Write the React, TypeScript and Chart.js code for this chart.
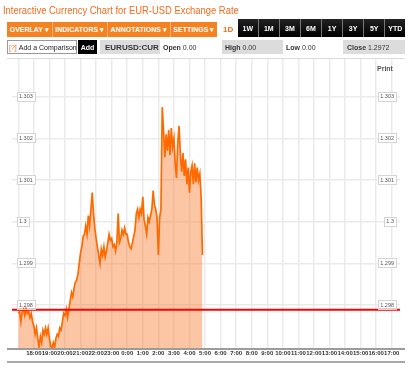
import React, { useEffect, useRef } from 'react';
import { Chart, registerables } from 'chart.js';

Chart.register(...registerables);

const TITLE = 'Interactive Currency Chart for EUR-USD Exchange Rate';
const MENU = ['OVERLAY', 'INDICATORS', 'ANNOTATIONS', 'SETTINGS'];
const RANGES = ['1W', '1M', '3M', '6M', '1Y', '3Y', '5Y', 'YTD'];
const SYMBOL = 'EURUSD:CUR';
const OPEN = '0.00';
const HIGH = '0.00';
const LOW = '0.00';
const CLOSE = '1.2972';

// hours since 17:00 -> axis label
const HOUR_LABELS = [
  '', '18:00', '19:00', '20:00', '21:00', '22:00', '23:00', '0:00', '1:00', '2:00',
  '3:00', '4:00', '5:00', '6:00', '7:00', '8:00', '9:00', '10:00', '11:00', '12:00',
  '13:00', '14:00', '15:00', '16:00', '17:00',
];

// EUR-USD price, one sample every 5 minutes starting at 17:00
const STEP_MINUTES = 5;
const PRICES = [
  1.2978, 1.29785, 1.2976, 1.29785, 1.2979, 1.29775, 1.2979, 1.2978, 1.29785, 1.2977, 1.2978, 1.2976,
  1.2975, 1.2973, 1.29745, 1.2972, 1.297, 1.29725, 1.2971, 1.2974, 1.2973, 1.29745, 1.2973, 1.29745,
  1.2972, 1.297, 1.29698, 1.2971, 1.29698, 1.2972, 1.2973, 1.29725, 1.29745, 1.2974, 1.2976, 1.2978,
  1.29775, 1.2979, 1.2977, 1.2979, 1.2981, 1.2983, 1.2982, 1.2984, 1.29855, 1.2986, 1.29875, 1.299,
  1.29925, 1.2994, 1.29965, 1.2997, 1.2999, 1.2997, 1.30015, 1.2999, 1.3003, 1.3007, 1.3002, 1.29985,
  1.2996, 1.2994, 1.2992, 1.299, 1.29935, 1.2992, 1.2994, 1.29915, 1.2993, 1.2995, 1.2997, 1.29955,
  1.2996, 1.2994, 1.29945, 1.2993, 1.2995, 1.3002, 1.2995, 1.2996, 1.2998, 1.2997, 1.29985, 1.2997,
  1.2997, 1.2995, 1.2994, 1.29935, 1.2995, 1.29965, 1.2998, 1.3002, 1.3003, 1.3001, 1.3003, 1.3002,
  1.3006, 1.30005, 1.2999, 1.2997, 1.3001, 1.3, 1.30015, 1.3003, 1.30075, 1.3004, 1.3003, 1.3001,
  1.2992, 1.3001, 1.3003, 1.30275, 1.3022, 1.30155, 1.3021, 1.3017, 1.3022, 1.3016, 1.30225, 1.3018,
  1.302, 1.3014, 1.30105, 1.3019, 1.3023, 1.3016, 1.3012, 1.30165, 1.3011, 1.3015, 1.3009, 1.3013,
  1.3007, 1.3012, 1.30135, 1.3009, 1.3014, 1.30095, 1.3013, 1.301, 1.30115, 1.3006, 1.2992,
];

const REF_PRICE = 1.29789;
const Y_MIN = 1.29697;
const Y_MAX = 1.30393;
const X_MIN = -0.405;
const X_MAX = 24.53;

const FONT = '"Liberation Sans", Arial, Helvetica, sans-serif';
const ORANGE_TEXT = '#f26c1d';
const Y_FONT = 5.5;

const labelBoxes = {
  id: 'labelBoxes',
  afterDraw(chart: any) {
    const ctx = chart.ctx;
    ctx.save();
    ctx.font = `${Y_FONT}px ${FONT}`;
    ctx.strokeStyle = '#d4d4d4';
    ctx.lineWidth = 1;
    for (const id of ['y', 'y2']) {
      const s = chart.scales[id];
      const pad = s.options.ticks.padding;
      for (const t of s.ticks) {
        const label = String(t.label);
        const w = ctx.measureText(label).width;
        const y = Math.round(s.getPixelForValue(t.value));
        const x0 = id === 'y' ? s.right + pad - 2 : s.left + pad - w - 2;
        ctx.strokeRect(Math.round(x0) + 0.5, y - 4.5, Math.round(w + 4), 9);
      }
    }
    ctx.restore();
  },
};

function ChartCanvas() {
  const ref = useRef<HTMLCanvasElement | null>(null);
  useEffect(() => {
    if (!ref.current) return;
    const priceData = PRICES.map((v, i) => ({ x: (i * STEP_MINUTES) / 60, y: v }));
    const yTicks = (padding: number) => ({
      mirror: true,
      padding,
      stepSize: 0.001,
      includeBounds: false,
      showLabelBackdrop: true,
      backdropColor: '#ffffff',
      backdropPadding: { x: 2, y: 1 },
      color: '#555',
      font: { size: Y_FONT, family: FONT },
      callback: (v: any) => String(Number(Number(v).toFixed(3))),
    });
    const dropLow = (scale: any) => {
      scale.ticks = scale.ticks.filter((t: any) => t.value >= 1.2975);
    };
    const chart = new Chart(ref.current, {
      type: 'line',
      data: {
        datasets: [
          {
            data: [
              { x: X_MIN, y: REF_PRICE },
              { x: X_MAX, y: REF_PRICE },
            ],
            borderColor: '#ff0000',
            borderWidth: 2,
            pointRadius: 0,
            fill: false,
          },
          {
            data: priceData,
            borderColor: '#ff6a00',
            borderWidth: 1.7,
            backgroundColor: 'rgba(248, 120, 40, 0.42)',
            pointRadius: 0,
            tension: 0,
            fill: 'start',
          },
        ],
      },
      options: {
        animation: false,
        responsive: false,
        devicePixelRatio: 1,
        events: [],
        layout: { padding: { left: 12, right: 20, top: 58, bottom: 10 } },
        plugins: { legend: { display: false }, tooltip: { enabled: false } },
        scales: {
          x: {
            type: 'linear',
            min: X_MIN,
            max: X_MAX,
            afterFit: (s: any) => {
              s.height = 10;
            },
            grid: { color: '#ebebeb', lineWidth: 1.5, drawTicks: false },
            border: { display: false },
            ticks: {
              stepSize: 1,
              includeBounds: false,
              autoSkip: false,
              maxRotation: 0,
              padding: 2,
              color: '#333',
              font: { size: 6, weight: 'bold', family: FONT },
              callback: (v: any) => HOUR_LABELS[Math.round(Number(v))] ?? '',
            },
          },
          y: {
            position: 'left',
            min: Y_MIN,
            max: Y_MAX,
            afterFit: (s: any) => {
              s.width = 0;
            },
            afterBuildTicks: dropLow,
            grid: { color: '#ebebeb', lineWidth: 1.5, drawTicks: false },
            border: { display: false },
            ticks: yTicks(7),
          },
          y2: {
            position: 'right',
            min: Y_MIN,
            max: Y_MAX,
            afterFit: (s: any) => {
              s.width = 0;
            },
            afterBuildTicks: dropLow,
            grid: { display: false, drawTicks: false },
            border: { display: false },
            ticks: yTicks(-6),
          },
        },
      },
      plugins: [labelBoxes],
    } as any);
    return () => chart.destroy();
  }, []);
  return (
    <canvas
      ref={ref}
      width={420}
      height={368}
      style={{ position: 'absolute', left: 0, top: 0, width: 420, height: 368 }}
    />
  );
}

const grayBox: React.CSSProperties = {
  position: 'absolute',
  top: 40,
  height: 14,
  background: '#dcdcdc',
  display: 'flex',
  alignItems: 'center',
  boxSizing: 'border-box',
  color: '#333',
};

export default function App() {
  return (
    <div
      style={{
        position: 'absolute',
        left: 0,
        top: 0,
        width: 420,
        height: 368,
        overflow: 'hidden',
        background: '#fff',
        fontFamily: FONT,
      }}
    >
      <ChartCanvas />
      <div
        style={{
          position: 'absolute',
          left: 3,
          top: 4,
          fontSize: 11,
          lineHeight: '12px',
          color: ORANGE_TEXT,
          whiteSpace: 'nowrap',
          transform: 'scaleX(0.855)',
          transformOrigin: 'left top',
        }}
      >
        {TITLE}
      </div>
      {/* toolbar row 1 */}
      <div
        style={{
          position: 'absolute',
          left: 7,
          top: 22,
          height: 15,
          width: 210,
          background: '#f58220',
          display: 'flex',
        }}
      >
        {MENU.map((m, i) => (
          <div
            key={m}
            style={{
              flex: '1 1 auto',
              display: 'flex',
              alignItems: 'center',
              justifyContent: 'center',
              color: '#fff',
              fontWeight: 'bold',
              fontSize: 7,
              whiteSpace: 'nowrap',
              borderRight: i < MENU.length - 1 ? '1px solid #f9b277' : 'none',
            }}
          >
            {m} ▾
          </div>
        ))}
      </div>
      <div
        style={{
          position: 'absolute',
          left: 223,
          top: 22,
          height: 15,
          display: 'flex',
          alignItems: 'center',
          color: ORANGE_TEXT,
          fontWeight: 'bold',
          fontSize: 8,
        }}
      >
        1D
      </div>
      <div
        style={{
          position: 'absolute',
          left: 238,
          top: 19,
          height: 18,
          width: 167,
          display: 'flex',
          gap: 1.5,
          background: '#777',
        }}
      >
        {RANGES.map((r) => (
          <div
            key={r}
            style={{
              flex: 1,
              background: 'linear-gradient(#222, #000)',
              color: '#fff',
              fontWeight: 'bold',
              fontSize: 7,
              display: 'flex',
              alignItems: 'center',
              justifyContent: 'center',
            }}
          >
            {r}
          </div>
        ))}
      </div>
      {/* toolbar row 2 */}
      <div
        style={{
          position: 'absolute',
          left: 7,
          top: 40,
          width: 70,
          height: 14,
          border: '1px solid #999',
          boxSizing: 'border-box',
          display: 'flex',
          alignItems: 'center',
          fontSize: 7,
          color: '#222',
          whiteSpace: 'nowrap',
          paddingLeft: 1,
        }}
      >
        <span style={{ color: ORANGE_TEXT }}>[?]</span>&nbsp;Add a Comparison
      </div>
      <div
        style={{
          position: 'absolute',
          left: 78,
          top: 40,
          width: 19,
          height: 14,
          background: '#000',
          color: '#fff',
          fontWeight: 'bold',
          fontSize: 7,
          display: 'flex',
          alignItems: 'center',
          justifyContent: 'center',
        }}
      >
        Add
      </div>
      <div style={{ ...grayBox, left: 100, width: 60, paddingLeft: 5, fontWeight: 'bold', fontSize: 8 }}>
        {SYMBOL}
      </div>
      <div style={{ ...grayBox, background: 'transparent', left: 163, fontSize: 7 }}>
        <b>Open</b>&nbsp;{OPEN}
      </div>
      <div style={{ ...grayBox, left: 222, width: 61, paddingLeft: 3, fontSize: 7 }}>
        <b>High</b>&nbsp;{HIGH}
      </div>
      <div style={{ ...grayBox, background: 'transparent', left: 286, fontSize: 7 }}>
        <b>Low</b>&nbsp;{LOW}
      </div>
      <div style={{ ...grayBox, left: 343, width: 62, paddingLeft: 4, fontSize: 7 }}>
        <b>Close</b>&nbsp;{CLOSE}
      </div>
      {/* frame lines */}
      <div style={{ position: 'absolute', left: 7, top: 58, width: 398, height: 1, background: '#dcdcdc' }} />
      <div style={{ position: 'absolute', left: 7, top: 348, width: 398, height: 2, background: '#9c9c9c' }} />
      <div style={{ position: 'absolute', left: 7, top: 361, width: 398, height: 2, background: '#a8a8a8' }} />
      <div
        style={{
          position: 'absolute',
          left: 377,
          top: 65,
          fontSize: 7,
          fontWeight: 'bold',
          color: '#555',
          lineHeight: '8px',
        }}
      >
        Print
      </div>
    </div>
  );
}
